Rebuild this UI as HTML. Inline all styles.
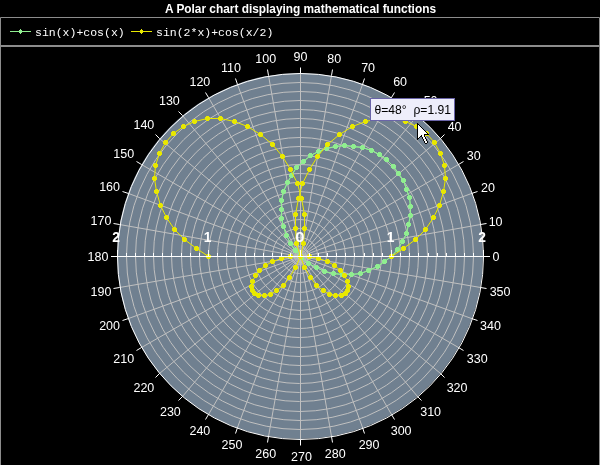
<!DOCTYPE html><html><head><meta charset="utf-8"><style>html,body{margin:0;padding:0;background:#000;width:600px;height:465px;overflow:hidden}svg{display:block;will-change:transform}text{font-family:"Liberation Sans",sans-serif}</style></head><body>
<svg width="600" height="465" viewBox="0 0 600 465">
<rect x="0" y="0" width="600" height="465" fill="#000"/>
<text x="165" y="13" fill="#fff" font-size="12" font-weight="bold" textLength="271" lengthAdjust="spacingAndGlyphs">A Polar chart displaying mathematical functions</text>
<path d="M0.5 465 V17.5 H599.5 V465 M0 45.5 H600 M0 46.5 H600" stroke="#8c8c8c" stroke-width="1" fill="none"/>
<path d="M10 31.5H31" stroke="#90ee90" stroke-width="1"/>
<path d="M20 29h1v1h1v3h-1v1h-1v-1h-1v-3h1z" fill="#90ee90" shape-rendering="crispEdges"/>
<text x="35" y="36" fill="#fff" font-size="11.5" style="font-family:'Liberation Mono',monospace">sin(x)+cos(x)</text>
<path d="M131 31.5H152" stroke="#e8e800" stroke-width="1"/>
<path d="M141 29h1v1h1v3h-1v1h-1v-1h-1v-3h1z" fill="#e8e800" shape-rendering="crispEdges"/>
<text x="156" y="36" fill="#fff" font-size="11.5" style="font-family:'Liberation Mono',monospace">sin(2*x)+cos(x/2)</text>
<ellipse cx="300" cy="256" rx="183" ry="183" fill="#708090"/>
<g fill="none" stroke="#c0c0c0" stroke-width="1"><ellipse cx="299.5" cy="255.5" rx="9.0" ry="9.0"/><ellipse cx="299.5" cy="255.5" rx="18.0" ry="18.0"/><ellipse cx="299.5" cy="255.5" rx="27.0" ry="27.0"/><ellipse cx="300.0" cy="256.0" rx="36.5" ry="36.5"/><ellipse cx="300.0" cy="256.0" rx="45.5" ry="45.5"/><ellipse cx="300.0" cy="256.0" rx="54.5" ry="54.5"/><ellipse cx="299.5" cy="255.5" rx="64.0" ry="64.0"/><ellipse cx="299.5" cy="255.5" rx="73.0" ry="73.0"/><ellipse cx="299.5" cy="255.5" rx="82.0" ry="82.0"/><ellipse cx="300.0" cy="256.0" rx="91.5" ry="91.5"/><ellipse cx="300.0" cy="256.0" rx="100.5" ry="100.5"/><ellipse cx="300.0" cy="256.0" rx="109.5" ry="109.5"/><ellipse cx="300.0" cy="256.0" rx="118.5" ry="118.5"/><ellipse cx="299.5" cy="255.5" rx="128.0" ry="128.0"/><ellipse cx="299.5" cy="255.5" rx="137.0" ry="137.0"/><ellipse cx="299.5" cy="255.5" rx="146.0" ry="146.0"/><ellipse cx="300.0" cy="256.0" rx="155.5" ry="155.5"/><ellipse cx="300.0" cy="256.0" rx="164.5" ry="164.5"/><ellipse cx="300.0" cy="256.0" rx="173.5" ry="173.5"/></g>
<path d="M300.5 256.5L480.5 224.5M300.5 256.5L471.5 193.5M300.5 256.5L458.5 164.5M300.5 256.5L440.5 138.5M300.5 256.5L417.5 115.5M300.5 256.5L391.5 97.5M300.5 256.5L362.5 84.5M300.5 256.5L331.5 75.5M300.5 256.5L300.5 73.5M300.5 256.5L268.5 75.5M300.5 256.5L237.5 84.5M300.5 256.5L208.5 97.5M300.5 256.5L182.5 115.5M300.5 256.5L159.5 138.5M300.5 256.5L141.5 164.5M300.5 256.5L128.5 193.5M300.5 256.5L119.5 224.5M300.5 256.5L119.5 287.5M300.5 256.5L128.5 318.5M300.5 256.5L141.5 347.5M300.5 256.5L159.5 373.5M300.5 256.5L182.5 396.5M300.5 256.5L208.5 414.5M300.5 256.5L237.5 427.5M300.5 256.5L268.5 436.5M300.5 256.5L300.5 439.5M300.5 256.5L331.5 436.5M300.5 256.5L362.5 427.5M300.5 256.5L391.5 414.5M300.5 256.5L417.5 396.5M300.5 256.5L440.5 373.5M300.5 256.5L458.5 347.5M300.5 256.5L471.5 318.5M300.5 256.5L480.5 287.5" stroke="#c0c0c0" stroke-width="1" fill="none"/>
<path d="M480.5 224.5L486.5 223.5M471.5 193.5L477.5 191.5M458.5 164.5L463.5 161.5M440.5 138.5L444.5 134.5M417.5 115.5L421.5 111.5M391.5 97.5L394.5 92.5M362.5 84.5L364.5 78.5M331.5 75.5L332.5 69.5M300.5 73.5L300.5 67.5M268.5 75.5L267.5 69.5M237.5 84.5L235.5 78.5M208.5 97.5L205.5 92.5M182.5 115.5L178.5 111.5M159.5 138.5L155.5 134.5M141.5 164.5L136.5 161.5M128.5 193.5L122.5 191.5M119.5 224.5L113.5 223.5M119.5 287.5L113.5 288.5M128.5 318.5L122.5 320.5M141.5 347.5L136.5 350.5M159.5 373.5L155.5 377.5M182.5 396.5L178.5 400.5M208.5 414.5L205.5 419.5M237.5 427.5L235.5 433.5M268.5 436.5L267.5 442.5M300.5 439.5L300.5 445.5M331.5 436.5L332.5 442.5M362.5 427.5L364.5 433.5M391.5 414.5L394.5 419.5M417.5 396.5L421.5 400.5M440.5 373.5L444.5 377.5M458.5 347.5L463.5 350.5M471.5 318.5L477.5 320.5M480.5 287.5L486.5 288.5" stroke="#fff" stroke-width="1" fill="none"/>
<ellipse cx="300.5" cy="256.5" rx="183" ry="183" fill="none" stroke="#fff" stroke-width="1"/>
<text x="496.00" y="261" fill="#fff" font-size="12.5" text-anchor="middle">0</text>
<text x="495.58" y="226" fill="#fff" font-size="12.5" text-anchor="middle">10</text>
<text x="487.92" y="192" fill="#fff" font-size="12.5" text-anchor="middle">20</text>
<text x="473.78" y="160" fill="#fff" font-size="12.5" text-anchor="middle">30</text>
<text x="454.58" y="131" fill="#fff" font-size="12.5" text-anchor="middle">40</text>
<text x="430.63" y="105" fill="#fff" font-size="12.5" text-anchor="middle">50</text>
<text x="400.12" y="86" fill="#fff" font-size="12.5" text-anchor="middle">60</text>
<text x="368.08" y="72" fill="#fff" font-size="12.5" text-anchor="middle">70</text>
<text x="334.25" y="63" fill="#fff" font-size="12.5" text-anchor="middle">80</text>
<text x="300.50" y="61" fill="#fff" font-size="12.5" text-anchor="middle">90</text>
<text x="265.75" y="63" fill="#fff" font-size="12.5" text-anchor="middle">100</text>
<text x="230.92" y="72" fill="#fff" font-size="12.5" text-anchor="middle">110</text>
<text x="199.88" y="86" fill="#fff" font-size="12.5" text-anchor="middle">120</text>
<text x="169.37" y="105" fill="#fff" font-size="12.5" text-anchor="middle">130</text>
<text x="143.89" y="129" fill="#fff" font-size="12.5" text-anchor="middle">140</text>
<text x="123.72" y="158" fill="#fff" font-size="12.5" text-anchor="middle">150</text>
<text x="109.58" y="191" fill="#fff" font-size="12.5" text-anchor="middle">160</text>
<text x="100.92" y="225" fill="#fff" font-size="12.5" text-anchor="middle">170</text>
<text x="98.00" y="261" fill="#fff" font-size="12.5" text-anchor="middle">180</text>
<text x="100.92" y="296" fill="#fff" font-size="12.5" text-anchor="middle">190</text>
<text x="109.58" y="330" fill="#fff" font-size="12.5" text-anchor="middle">200</text>
<text x="123.72" y="363" fill="#fff" font-size="12.5" text-anchor="middle">210</text>
<text x="143.89" y="392" fill="#fff" font-size="12.5" text-anchor="middle">220</text>
<text x="170.37" y="416" fill="#fff" font-size="12.5" text-anchor="middle">230</text>
<text x="199.88" y="435" fill="#fff" font-size="12.5" text-anchor="middle">240</text>
<text x="231.92" y="449" fill="#fff" font-size="12.5" text-anchor="middle">250</text>
<text x="265.75" y="458" fill="#fff" font-size="12.5" text-anchor="middle">260</text>
<text x="301.50" y="461" fill="#fff" font-size="12.5" text-anchor="middle">270</text>
<text x="335.25" y="458" fill="#fff" font-size="12.5" text-anchor="middle">280</text>
<text x="369.08" y="449" fill="#fff" font-size="12.5" text-anchor="middle">290</text>
<text x="401.12" y="435" fill="#fff" font-size="12.5" text-anchor="middle">300</text>
<text x="430.63" y="416" fill="#fff" font-size="12.5" text-anchor="middle">310</text>
<text x="457.11" y="392" fill="#fff" font-size="12.5" text-anchor="middle">320</text>
<text x="477.28" y="363" fill="#fff" font-size="12.5" text-anchor="middle">330</text>
<text x="490.42" y="330" fill="#fff" font-size="12.5" text-anchor="middle">340</text>
<text x="500.08" y="296" fill="#fff" font-size="12.5" text-anchor="middle">350</text>
<path d="M391.5 256.5L397.5 249.5L402.5 241.5L406.5 233.5L408.5 224.5L410.5 215.5L410.5 206.5L409.5 197.5L406.5 189.5L403.5 180.5L398.5 173.5L393.5 166.5L386.5 159.5L379.5 154.5L371.5 150.5L362.5 147.5L353.5 146.5L344.5 145.5L335.5 146.5L326.5 148.5L318.5 151.5L310.5 155.5L303.5 161.5L296.5 167.5L291.5 175.5L287.5 182.5L283.5 191.5L281.5 200.5L281.5 209.5L281.5 218.5L283.5 226.5L286.5 235.5L290.5 243.5L295.5 250.5L301.5 257.5L308.5 263.5L316.5 267.5L324.5 271.5L333.5 273.5L342.5 274.5L351.5 274.5L360.5 273.5L368.5 270.5L377.5 266.5L384.5 261.5L391.5 256.5L397.5 249.5L402.5 241.5L406.5 233.5L408.5 224.5L410.5 215.5L410.5 206.5L409.5 197.5L406.5 189.5L403.5 180.5L398.5 173.5L393.5 166.5L386.5 159.5L379.5 154.5L371.5 150.5L362.5 147.5L353.5 146.5L344.5 145.5L335.5 146.5L326.5 148.5L318.5 151.5L310.5 155.5L303.5 161.5L296.5 167.5L291.5 175.5L287.5 182.5L283.5 191.5L281.5 200.5L281.5 209.5L281.5 218.5L283.5 226.5L286.5 235.5L290.5 243.5L295.5 250.5L301.5 257.5L308.5 263.5L316.5 267.5L324.5 271.5L333.5 273.5L342.5 274.5L351.5 274.5L360.5 273.5L368.5 270.5L377.5 266.5L384.5 261.5L391.5 256.5" fill="none" stroke="#90ee90" stroke-width="1"/>
<path d="M390 254h3v1h1v3h-1v1h-3v-1h-1v-3h1zM396 247h3v1h1v3h-1v1h-3v-1h-1v-3h1zM401 239h3v1h1v3h-1v1h-3v-1h-1v-3h1zM405 231h3v1h1v3h-1v1h-3v-1h-1v-3h1zM407 222h3v1h1v3h-1v1h-3v-1h-1v-3h1zM409 213h3v1h1v3h-1v1h-3v-1h-1v-3h1zM409 204h3v1h1v3h-1v1h-3v-1h-1v-3h1zM408 195h3v1h1v3h-1v1h-3v-1h-1v-3h1zM405 187h3v1h1v3h-1v1h-3v-1h-1v-3h1zM402 178h3v1h1v3h-1v1h-3v-1h-1v-3h1zM397 171h3v1h1v3h-1v1h-3v-1h-1v-3h1zM392 164h3v1h1v3h-1v1h-3v-1h-1v-3h1zM385 157h3v1h1v3h-1v1h-3v-1h-1v-3h1zM378 152h3v1h1v3h-1v1h-3v-1h-1v-3h1zM370 148h3v1h1v3h-1v1h-3v-1h-1v-3h1zM361 145h3v1h1v3h-1v1h-3v-1h-1v-3h1zM352 144h3v1h1v3h-1v1h-3v-1h-1v-3h1zM343 143h3v1h1v3h-1v1h-3v-1h-1v-3h1zM334 144h3v1h1v3h-1v1h-3v-1h-1v-3h1zM325 146h3v1h1v3h-1v1h-3v-1h-1v-3h1zM317 149h3v1h1v3h-1v1h-3v-1h-1v-3h1zM309 153h3v1h1v3h-1v1h-3v-1h-1v-3h1zM302 159h3v1h1v3h-1v1h-3v-1h-1v-3h1zM295 165h3v1h1v3h-1v1h-3v-1h-1v-3h1zM290 173h3v1h1v3h-1v1h-3v-1h-1v-3h1zM286 180h3v1h1v3h-1v1h-3v-1h-1v-3h1zM282 189h3v1h1v3h-1v1h-3v-1h-1v-3h1zM280 198h3v1h1v3h-1v1h-3v-1h-1v-3h1zM280 207h3v1h1v3h-1v1h-3v-1h-1v-3h1zM280 216h3v1h1v3h-1v1h-3v-1h-1v-3h1zM282 224h3v1h1v3h-1v1h-3v-1h-1v-3h1zM285 233h3v1h1v3h-1v1h-3v-1h-1v-3h1zM289 241h3v1h1v3h-1v1h-3v-1h-1v-3h1zM294 248h3v1h1v3h-1v1h-3v-1h-1v-3h1zM300 255h3v1h1v3h-1v1h-3v-1h-1v-3h1zM307 261h3v1h1v3h-1v1h-3v-1h-1v-3h1zM315 265h3v1h1v3h-1v1h-3v-1h-1v-3h1zM323 269h3v1h1v3h-1v1h-3v-1h-1v-3h1zM332 271h3v1h1v3h-1v1h-3v-1h-1v-3h1zM341 272h3v1h1v3h-1v1h-3v-1h-1v-3h1zM350 272h3v1h1v3h-1v1h-3v-1h-1v-3h1zM359 271h3v1h1v3h-1v1h-3v-1h-1v-3h1zM367 268h3v1h1v3h-1v1h-3v-1h-1v-3h1zM376 264h3v1h1v3h-1v1h-3v-1h-1v-3h1zM383 259h3v1h1v3h-1v1h-3v-1h-1v-3h1zM390 254h3v1h1v3h-1v1h-3v-1h-1v-3h1zM396 247h3v1h1v3h-1v1h-3v-1h-1v-3h1zM401 239h3v1h1v3h-1v1h-3v-1h-1v-3h1zM405 231h3v1h1v3h-1v1h-3v-1h-1v-3h1zM407 222h3v1h1v3h-1v1h-3v-1h-1v-3h1zM409 213h3v1h1v3h-1v1h-3v-1h-1v-3h1zM409 204h3v1h1v3h-1v1h-3v-1h-1v-3h1zM408 195h3v1h1v3h-1v1h-3v-1h-1v-3h1zM405 187h3v1h1v3h-1v1h-3v-1h-1v-3h1zM402 178h3v1h1v3h-1v1h-3v-1h-1v-3h1zM397 171h3v1h1v3h-1v1h-3v-1h-1v-3h1zM392 164h3v1h1v3h-1v1h-3v-1h-1v-3h1zM385 157h3v1h1v3h-1v1h-3v-1h-1v-3h1zM378 152h3v1h1v3h-1v1h-3v-1h-1v-3h1zM370 148h3v1h1v3h-1v1h-3v-1h-1v-3h1zM361 145h3v1h1v3h-1v1h-3v-1h-1v-3h1zM352 144h3v1h1v3h-1v1h-3v-1h-1v-3h1zM343 143h3v1h1v3h-1v1h-3v-1h-1v-3h1zM334 144h3v1h1v3h-1v1h-3v-1h-1v-3h1zM325 146h3v1h1v3h-1v1h-3v-1h-1v-3h1zM317 149h3v1h1v3h-1v1h-3v-1h-1v-3h1zM309 153h3v1h1v3h-1v1h-3v-1h-1v-3h1zM302 159h3v1h1v3h-1v1h-3v-1h-1v-3h1zM295 165h3v1h1v3h-1v1h-3v-1h-1v-3h1zM290 173h3v1h1v3h-1v1h-3v-1h-1v-3h1zM286 180h3v1h1v3h-1v1h-3v-1h-1v-3h1zM282 189h3v1h1v3h-1v1h-3v-1h-1v-3h1zM280 198h3v1h1v3h-1v1h-3v-1h-1v-3h1zM280 207h3v1h1v3h-1v1h-3v-1h-1v-3h1zM280 216h3v1h1v3h-1v1h-3v-1h-1v-3h1zM282 224h3v1h1v3h-1v1h-3v-1h-1v-3h1zM285 233h3v1h1v3h-1v1h-3v-1h-1v-3h1zM289 241h3v1h1v3h-1v1h-3v-1h-1v-3h1zM294 248h3v1h1v3h-1v1h-3v-1h-1v-3h1zM300 255h3v1h1v3h-1v1h-3v-1h-1v-3h1zM307 261h3v1h1v3h-1v1h-3v-1h-1v-3h1zM315 265h3v1h1v3h-1v1h-3v-1h-1v-3h1zM323 269h3v1h1v3h-1v1h-3v-1h-1v-3h1zM332 271h3v1h1v3h-1v1h-3v-1h-1v-3h1zM341 272h3v1h1v3h-1v1h-3v-1h-1v-3h1zM350 272h3v1h1v3h-1v1h-3v-1h-1v-3h1zM359 271h3v1h1v3h-1v1h-3v-1h-1v-3h1zM367 268h3v1h1v3h-1v1h-3v-1h-1v-3h1zM376 264h3v1h1v3h-1v1h-3v-1h-1v-3h1zM383 259h3v1h1v3h-1v1h-3v-1h-1v-3h1zM390 254h3v1h1v3h-1v1h-3v-1h-1v-3h1z" fill="#90ee90" shape-rendering="crispEdges"/>
<path d="M391.5 256.5L403.5 248.5L415.5 239.5L425.5 229.5L433.5 217.5L439.5 205.5L443.5 191.5L445.5 178.5L444.5 165.5L440.5 153.5L434.5 142.5L426.5 133.5L416.5 126.5L405.5 121.5L392.5 118.5L379.5 118.5L365.5 121.5L352.5 126.5L339.5 134.5L327.5 144.5L317.5 156.5L309.5 169.5L302.5 183.5L298.5 198.5L295.5 214.5L295.5 228.5L296.5 243.5L300.5 256.5L304.5 267.5L310.5 277.5L316.5 285.5L323.5 290.5L329.5 294.5L335.5 295.5L341.5 295.5L345.5 293.5L347.5 290.5L348.5 286.5L347.5 281.5L344.5 275.5L340.5 270.5L334.5 265.5L327.5 261.5L318.5 258.5L309.5 256.5L300.5 256.5L290.5 256.5L281.5 258.5L272.5 261.5L265.5 265.5L259.5 270.5L255.5 275.5L252.5 281.5L251.5 286.5L252.5 290.5L254.5 293.5L258.5 295.5L264.5 295.5L270.5 294.5L276.5 290.5L283.5 285.5L289.5 277.5L295.5 267.5L300.5 256.5L303.5 243.5L304.5 228.5L304.5 214.5L301.5 198.5L297.5 183.5L290.5 169.5L282.5 156.5L272.5 144.5L260.5 134.5L247.5 126.5L234.5 121.5L220.5 118.5L207.5 118.5L194.5 121.5L183.5 126.5L173.5 133.5L165.5 142.5L159.5 153.5L155.5 165.5L154.5 178.5L156.5 191.5L160.5 205.5L166.5 217.5L174.5 229.5L184.5 239.5L196.5 248.5L208.5 256.5" fill="none" stroke="#e8e800" stroke-width="1"/>
<path d="M390 254h3v1h1v3h-1v1h-3v-1h-1v-3h1zM402 246h3v1h1v3h-1v1h-3v-1h-1v-3h1zM414 237h3v1h1v3h-1v1h-3v-1h-1v-3h1zM424 227h3v1h1v3h-1v1h-3v-1h-1v-3h1zM432 215h3v1h1v3h-1v1h-3v-1h-1v-3h1zM438 203h3v1h1v3h-1v1h-3v-1h-1v-3h1zM442 189h3v1h1v3h-1v1h-3v-1h-1v-3h1zM444 176h3v1h1v3h-1v1h-3v-1h-1v-3h1zM443 163h3v1h1v3h-1v1h-3v-1h-1v-3h1zM439 151h3v1h1v3h-1v1h-3v-1h-1v-3h1zM433 140h3v1h1v3h-1v1h-3v-1h-1v-3h1zM425 131h3v1h1v3h-1v1h-3v-1h-1v-3h1zM415 124h3v1h1v3h-1v1h-3v-1h-1v-3h1zM404 119h3v1h1v3h-1v1h-3v-1h-1v-3h1zM391 116h3v1h1v3h-1v1h-3v-1h-1v-3h1zM378 116h3v1h1v3h-1v1h-3v-1h-1v-3h1zM364 119h3v1h1v3h-1v1h-3v-1h-1v-3h1zM351 124h3v1h1v3h-1v1h-3v-1h-1v-3h1zM338 132h3v1h1v3h-1v1h-3v-1h-1v-3h1zM326 142h3v1h1v3h-1v1h-3v-1h-1v-3h1zM316 154h3v1h1v3h-1v1h-3v-1h-1v-3h1zM308 167h3v1h1v3h-1v1h-3v-1h-1v-3h1zM301 181h3v1h1v3h-1v1h-3v-1h-1v-3h1zM297 196h3v1h1v3h-1v1h-3v-1h-1v-3h1zM294 212h3v1h1v3h-1v1h-3v-1h-1v-3h1zM294 226h3v1h1v3h-1v1h-3v-1h-1v-3h1zM295 241h3v1h1v3h-1v1h-3v-1h-1v-3h1zM299 254h3v1h1v3h-1v1h-3v-1h-1v-3h1zM303 265h3v1h1v3h-1v1h-3v-1h-1v-3h1zM309 275h3v1h1v3h-1v1h-3v-1h-1v-3h1zM315 283h3v1h1v3h-1v1h-3v-1h-1v-3h1zM322 288h3v1h1v3h-1v1h-3v-1h-1v-3h1zM328 292h3v1h1v3h-1v1h-3v-1h-1v-3h1zM334 293h3v1h1v3h-1v1h-3v-1h-1v-3h1zM340 293h3v1h1v3h-1v1h-3v-1h-1v-3h1zM344 291h3v1h1v3h-1v1h-3v-1h-1v-3h1zM346 288h3v1h1v3h-1v1h-3v-1h-1v-3h1zM347 284h3v1h1v3h-1v1h-3v-1h-1v-3h1zM346 279h3v1h1v3h-1v1h-3v-1h-1v-3h1zM343 273h3v1h1v3h-1v1h-3v-1h-1v-3h1zM339 268h3v1h1v3h-1v1h-3v-1h-1v-3h1zM333 263h3v1h1v3h-1v1h-3v-1h-1v-3h1zM326 259h3v1h1v3h-1v1h-3v-1h-1v-3h1zM317 256h3v1h1v3h-1v1h-3v-1h-1v-3h1zM308 254h3v1h1v3h-1v1h-3v-1h-1v-3h1zM299 254h3v1h1v3h-1v1h-3v-1h-1v-3h1zM289 254h3v1h1v3h-1v1h-3v-1h-1v-3h1zM280 256h3v1h1v3h-1v1h-3v-1h-1v-3h1zM271 259h3v1h1v3h-1v1h-3v-1h-1v-3h1zM264 263h3v1h1v3h-1v1h-3v-1h-1v-3h1zM258 268h3v1h1v3h-1v1h-3v-1h-1v-3h1zM254 273h3v1h1v3h-1v1h-3v-1h-1v-3h1zM251 279h3v1h1v3h-1v1h-3v-1h-1v-3h1zM250 284h3v1h1v3h-1v1h-3v-1h-1v-3h1zM251 288h3v1h1v3h-1v1h-3v-1h-1v-3h1zM253 291h3v1h1v3h-1v1h-3v-1h-1v-3h1zM257 293h3v1h1v3h-1v1h-3v-1h-1v-3h1zM263 293h3v1h1v3h-1v1h-3v-1h-1v-3h1zM269 292h3v1h1v3h-1v1h-3v-1h-1v-3h1zM275 288h3v1h1v3h-1v1h-3v-1h-1v-3h1zM282 283h3v1h1v3h-1v1h-3v-1h-1v-3h1zM288 275h3v1h1v3h-1v1h-3v-1h-1v-3h1zM294 265h3v1h1v3h-1v1h-3v-1h-1v-3h1zM299 254h3v1h1v3h-1v1h-3v-1h-1v-3h1zM302 241h3v1h1v3h-1v1h-3v-1h-1v-3h1zM303 226h3v1h1v3h-1v1h-3v-1h-1v-3h1zM303 212h3v1h1v3h-1v1h-3v-1h-1v-3h1zM300 196h3v1h1v3h-1v1h-3v-1h-1v-3h1zM296 181h3v1h1v3h-1v1h-3v-1h-1v-3h1zM289 167h3v1h1v3h-1v1h-3v-1h-1v-3h1zM281 154h3v1h1v3h-1v1h-3v-1h-1v-3h1zM271 142h3v1h1v3h-1v1h-3v-1h-1v-3h1zM259 132h3v1h1v3h-1v1h-3v-1h-1v-3h1zM246 124h3v1h1v3h-1v1h-3v-1h-1v-3h1zM233 119h3v1h1v3h-1v1h-3v-1h-1v-3h1zM219 116h3v1h1v3h-1v1h-3v-1h-1v-3h1zM206 116h3v1h1v3h-1v1h-3v-1h-1v-3h1zM193 119h3v1h1v3h-1v1h-3v-1h-1v-3h1zM182 124h3v1h1v3h-1v1h-3v-1h-1v-3h1zM172 131h3v1h1v3h-1v1h-3v-1h-1v-3h1zM164 140h3v1h1v3h-1v1h-3v-1h-1v-3h1zM158 151h3v1h1v3h-1v1h-3v-1h-1v-3h1zM154 163h3v1h1v3h-1v1h-3v-1h-1v-3h1zM153 176h3v1h1v3h-1v1h-3v-1h-1v-3h1zM155 189h3v1h1v3h-1v1h-3v-1h-1v-3h1zM159 203h3v1h1v3h-1v1h-3v-1h-1v-3h1zM165 215h3v1h1v3h-1v1h-3v-1h-1v-3h1zM173 227h3v1h1v3h-1v1h-3v-1h-1v-3h1zM183 237h3v1h1v3h-1v1h-3v-1h-1v-3h1zM195 246h3v1h1v3h-1v1h-3v-1h-1v-3h1zM207 254h3v1h1v3h-1v1h-3v-1h-1v-3h1z" fill="#e8e800" shape-rendering="crispEdges"/>
<path d="M111 256.5H490M117.5 250V256M126.5 253V256M135.5 253V256M144.5 253V256M153.5 253V256M162.5 253V256M171.5 253V256M181.5 253V256M190.5 253V256M199.5 253V256M208.5 250V256M217.5 253V256M226.5 253V256M235.5 253V256M245.5 253V256M254.5 253V256M263.5 253V256M272.5 253V256M281.5 253V256M290.5 253V256M300.5 250V256M309.5 253V256M318.5 253V256M327.5 253V256M336.5 253V256M345.5 253V256M354.5 253V256M364.5 253V256M373.5 253V256M382.5 253V256M391.5 250V256M400.5 253V256M409.5 253V256M418.5 253V256M428.5 253V256M437.5 253V256M446.5 253V256M455.5 253V256M464.5 253V256M473.5 253V256M483.5 250V256" stroke="#fff" stroke-width="1" fill="none"/>
<text x="116.0" y="241.5" fill="#fff" font-size="13.8" font-weight="bold" text-anchor="middle">2</text>
<text x="207.5" y="241.5" fill="#fff" font-size="13.8" font-weight="bold" text-anchor="middle">1</text>
<text x="295.2" y="241.5" fill="#fff" font-size="13.8" font-weight="bold" textLength="9.2" lengthAdjust="spacingAndGlyphs">0</text>
<text x="390.5" y="241.5" fill="#fff" font-size="13.8" font-weight="bold" text-anchor="middle">1</text>
<text x="482.0" y="241.5" fill="#fff" font-size="13.8" font-weight="bold" text-anchor="middle">2</text>
<rect x="370.5" y="98.5" width="84" height="22" fill="#eeeefa" stroke="#6a64a8" stroke-width="1"/>
<text x="374.5" y="114" fill="#000" font-size="12.5" xml:space="preserve" textLength="76.5" lengthAdjust="spacingAndGlyphs">θ=48°  ρ=1.91</text>
<path d="M418 125h1v1h-1zM418 126h1v1h-1zM419 126h1v1h-1zM418 127h1v1h-1zM419 127h1v1h-1zM420 127h1v1h-1zM418 128h1v1h-1zM419 128h1v1h-1zM420 128h1v1h-1zM421 128h1v1h-1zM418 129h1v1h-1zM419 129h1v1h-1zM420 129h1v1h-1zM421 129h1v1h-1zM422 129h1v1h-1zM418 130h1v1h-1zM419 130h1v1h-1zM420 130h1v1h-1zM421 130h1v1h-1zM422 130h1v1h-1zM423 130h1v1h-1zM418 131h1v1h-1zM419 131h1v1h-1zM420 131h1v1h-1zM421 131h1v1h-1zM422 131h1v1h-1zM423 131h1v1h-1zM424 131h1v1h-1zM418 132h1v1h-1zM419 132h1v1h-1zM420 132h1v1h-1zM421 132h1v1h-1zM422 132h1v1h-1zM423 132h1v1h-1zM424 132h1v1h-1zM425 132h1v1h-1zM418 133h1v1h-1zM419 133h1v1h-1zM420 133h1v1h-1zM421 133h1v1h-1zM422 133h1v1h-1zM423 133h1v1h-1zM424 133h1v1h-1zM425 133h1v1h-1zM426 133h1v1h-1zM418 134h1v1h-1zM419 134h1v1h-1zM420 134h1v1h-1zM421 134h1v1h-1zM422 134h1v1h-1zM423 134h1v1h-1zM418 135h1v1h-1zM419 135h1v1h-1zM420 135h1v1h-1zM422 135h1v1h-1zM423 135h1v1h-1zM418 136h1v1h-1zM419 136h1v1h-1zM422 136h1v1h-1zM423 136h1v1h-1zM418 137h1v1h-1zM423 137h1v1h-1zM424 137h1v1h-1zM423 138h1v1h-1zM424 138h1v1h-1zM424 139h1v1h-1zM425 139h1v1h-1zM424 140h1v1h-1zM425 140h1v1h-1zM425 141h1v1h-1zM426 141h1v1h-1zM425 142h1v1h-1zM426 142h1v1h-1z" fill="#fff" shape-rendering="crispEdges"/>
<path d="M417 123h1v1h-1zM417 124h1v1h-1zM418 124h1v1h-1zM417 125h1v1h-1zM419 125h1v1h-1zM417 126h1v1h-1zM420 126h1v1h-1zM417 127h1v1h-1zM421 127h1v1h-1zM417 128h1v1h-1zM422 128h1v1h-1zM417 129h1v1h-1zM423 129h1v1h-1zM417 130h1v1h-1zM424 130h1v1h-1zM417 131h1v1h-1zM425 131h1v1h-1zM417 132h1v1h-1zM426 132h1v1h-1zM417 133h1v1h-1zM427 133h1v1h-1zM417 134h1v1h-1zM424 134h1v1h-1zM425 134h1v1h-1zM426 134h1v1h-1zM427 134h1v1h-1zM428 134h1v1h-1zM417 135h1v1h-1zM421 135h1v1h-1zM424 135h1v1h-1zM417 136h1v1h-1zM420 136h1v1h-1zM421 136h1v1h-1zM424 136h1v1h-1zM417 137h1v1h-1zM419 137h1v1h-1zM422 137h1v1h-1zM425 137h1v1h-1zM417 138h1v1h-1zM418 138h1v1h-1zM422 138h1v1h-1zM425 138h1v1h-1zM417 139h1v1h-1zM423 139h1v1h-1zM426 139h1v1h-1zM423 140h1v1h-1zM426 140h1v1h-1zM424 141h1v1h-1zM427 141h1v1h-1zM424 142h1v1h-1zM427 142h1v1h-1zM425 143h1v1h-1zM426 143h1v1h-1z" fill="#000" shape-rendering="crispEdges"/>
</svg></body></html>
